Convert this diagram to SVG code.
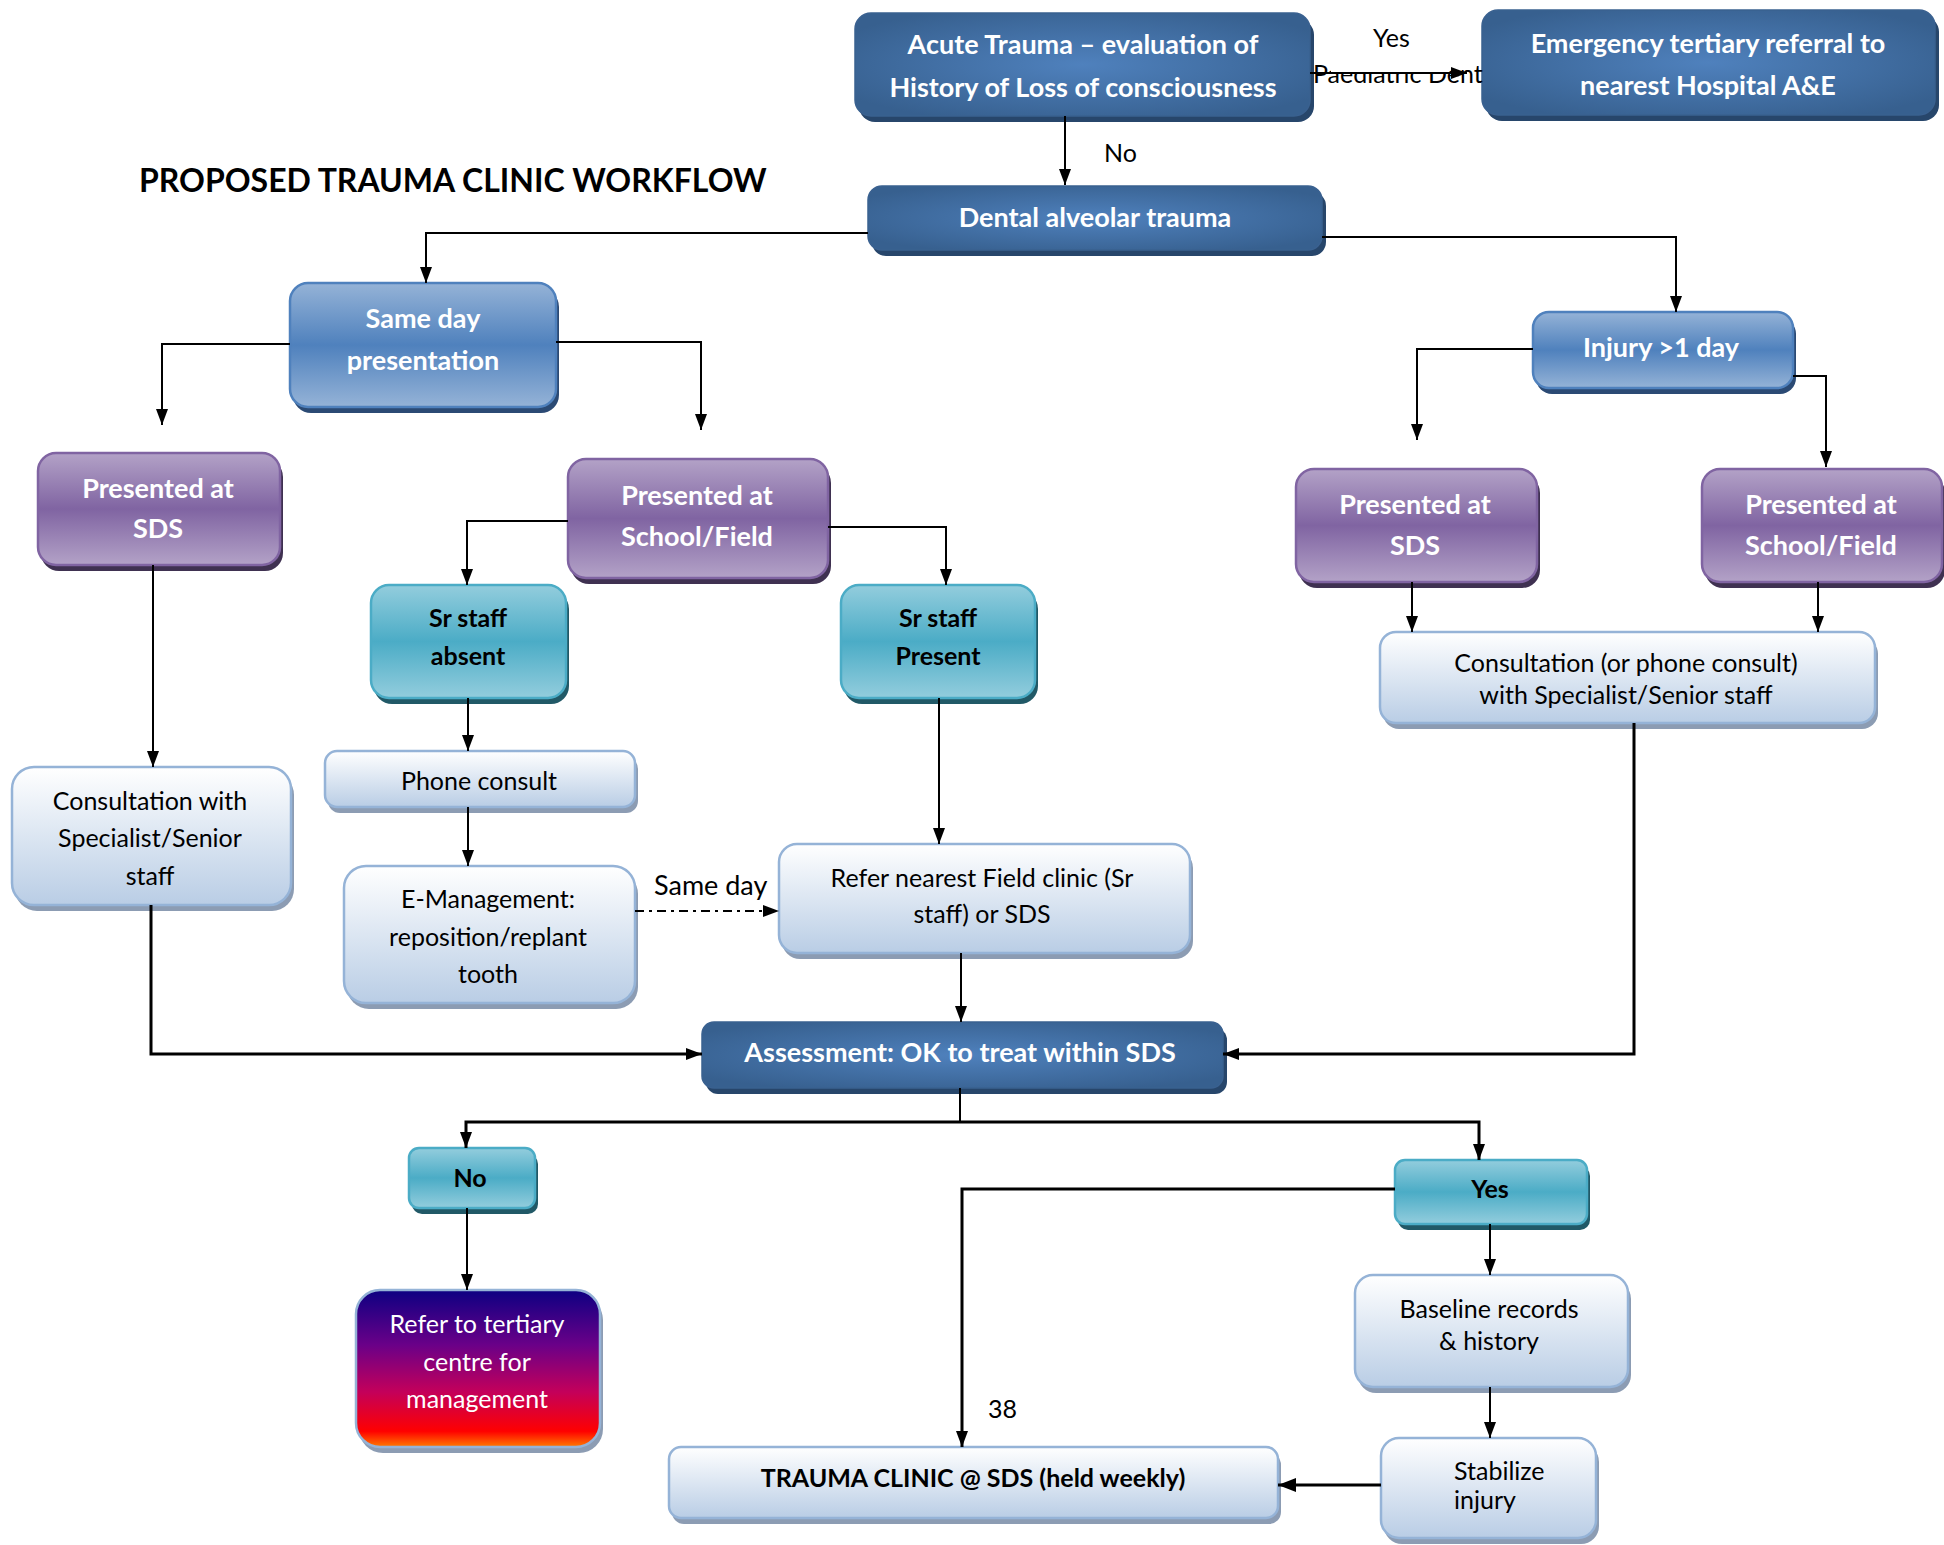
<svg xmlns="http://www.w3.org/2000/svg" width="1944" height="1545" viewBox="0 0 1944 1545">
<defs>
<radialGradient id="gDark" cx="0.5" cy="0.5" r="0.6">
<stop offset="0" stop-color="#4f81bd"/>
<stop offset="1" stop-color="#37608f"/>
</radialGradient>
<linearGradient id="gBlue" x1="0" y1="0" x2="0" y2="1">
<stop offset="0" stop-color="#95b3d7"/>
<stop offset="0.5" stop-color="#4f81bd"/>
<stop offset="1" stop-color="#95b3d7"/>
</linearGradient>
<linearGradient id="gPurple" x1="0" y1="0" x2="0" y2="1">
<stop offset="0" stop-color="#b3a2c7"/>
<stop offset="0.5" stop-color="#8064a2"/>
<stop offset="1" stop-color="#b3a2c7"/>
</linearGradient>
<linearGradient id="gTeal" x1="0" y1="0" x2="0" y2="1">
<stop offset="0" stop-color="#93cddd"/>
<stop offset="0.5" stop-color="#4bacc6"/>
<stop offset="1" stop-color="#93cddd"/>
</linearGradient>
<linearGradient id="gLight" x1="0" y1="0" x2="0" y2="1">
<stop offset="0" stop-color="#ffffff"/>
<stop offset="1" stop-color="#b9cde5"/>
</linearGradient>
<linearGradient id="gRefer" x1="0" y1="0" x2="0" y2="1">
<stop offset="0" stop-color="#0d0082"/>
<stop offset="0.35" stop-color="#6a0088"/>
<stop offset="0.65" stop-color="#c4005a"/>
<stop offset="0.9" stop-color="#ff0000"/>
<stop offset="1" stop-color="#ff7a00"/>
</linearGradient>
<marker id="arr" markerUnits="userSpaceOnUse" markerWidth="16" markerHeight="14" refX="16" refY="7" orient="auto">
<path d="M0,1 L16,7 L0,13 z" fill="#000"/>
</marker>
<marker id="arrB" markerUnits="userSpaceOnUse" markerWidth="18" markerHeight="16" refX="18" refY="8" orient="auto">
<path d="M0,1 L18,8 L0,15 z" fill="#000"/>
</marker>
<style>
.sdDark{fill:#27466b}
.dark{fill:url(#gDark);stroke:#3a6190;stroke-width:1.5}
.sdBlue{fill:#2b4a74}
.blue{fill:url(#gBlue);stroke:#4f81bd;stroke-width:2.5}
.sdPurple{fill:#3f3151}
.purple{fill:url(#gPurple);stroke:#8064a2;stroke-width:2.5}
.sdTeal{fill:#215967}
.teal{fill:url(#gTeal);stroke:#4bacc6;stroke-width:2.5}
.sdLight{fill:#8c9cb3}
.light{fill:url(#gLight);stroke:#95b3d7;stroke-width:2.5}
.refer{fill:url(#gRefer);stroke:#95b3d7;stroke-width:2.5}
text{font-family:Lato,"Open Sans","Liberation Sans",sans-serif}
.tw{fill:#fff;font-weight:700;font-size:27px;text-anchor:middle}
.tb{fill:#000;font-weight:700;font-size:25px;text-anchor:middle}
.tl{fill:#000;font-size:25px;text-anchor:middle}
.tls{fill:#000;font-size:25px;text-anchor:start}
.twr{fill:#fff;font-size:25px;text-anchor:middle}
.lbl{fill:#000;font-size:25px}
.title{fill:#000;font-weight:700;font-size:32px}
.c{fill:none;stroke:#000;stroke-width:2}
.ct{fill:none;stroke:#000;stroke-width:3}
</style>
</defs>
<rect width="1944" height="1545" fill="#fff"/>

<text class="title" x="139" y="192">PROPOSED TRAUMA CLINIC WORKFLOW</text>

<g id="acute">
<rect class="sdDark" x="859" y="19" width="455" height="103" rx="16"/>
<rect class="dark" x="855" y="13" width="455" height="103" rx="16"/>
<text class="tw" x="1083" y="54">Acute Trauma – evaluation of</text>
<text class="tw" x="1083" y="97">History of Loss of consciousness</text>
</g>
<g id="emergency">
<rect class="sdDark" x="1486" y="16" width="453" height="105" rx="16"/>
<rect class="dark" x="1482" y="10" width="453" height="105" rx="16"/>
<text class="tw" x="1708" y="53">Emergency tertiary referral to</text>
<text class="tw" x="1708" y="95">nearest Hospital A&amp;E</text>
</g>
<g id="dental">
<rect class="sdDark" x="872" y="192" width="454" height="64" rx="14"/>
<rect class="dark" x="868" y="186" width="454" height="64" rx="14"/>
<text class="tw" x="1095" y="227">Dental alveolar trauma</text>
</g>
<g id="same-day">
<rect class="sdBlue" x="293" y="289" width="266" height="124" rx="18"/>
<rect class="blue" x="290" y="283" width="266" height="124" rx="18"/>
<text class="tw" x="423" y="328">Same day</text>
<text class="tw" x="423" y="370">presentation</text>
</g>
<g id="injury">
<rect class="sdBlue" x="1536" y="318" width="260" height="76" rx="16"/>
<rect class="blue" x="1533" y="312" width="260" height="76" rx="16"/>
<text class="tw" x="1661" y="357">Injury &gt;1 day</text>
</g>
<g id="sds-left">
<rect class="sdPurple" x="41" y="459" width="242" height="112" rx="18"/>
<rect class="purple" x="38" y="453" width="242" height="112" rx="18"/>
<text class="tw" x="158" y="498">Presented at</text>
<text class="tw" x="158" y="538">SDS</text>
</g>
<g id="school-left">
<rect class="sdPurple" x="571" y="465" width="260" height="119" rx="18"/>
<rect class="purple" x="568" y="459" width="260" height="119" rx="18"/>
<text class="tw" x="697" y="505">Presented at</text>
<text class="tw" x="697" y="546">School/Field</text>
</g>
<g id="sds-right">
<rect class="sdPurple" x="1299" y="475" width="241" height="113" rx="18"/>
<rect class="purple" x="1296" y="469" width="241" height="113" rx="18"/>
<text class="tw" x="1415" y="514">Presented at</text>
<text class="tw" x="1415" y="555">SDS</text>
</g>
<g id="school-right">
<rect class="sdPurple" x="1705" y="475" width="240" height="113" rx="18"/>
<rect class="purple" x="1702" y="469" width="240" height="113" rx="18"/>
<text class="tw" x="1821" y="514">Presented at</text>
<text class="tw" x="1821" y="555">School/Field</text>
</g>
<g id="sr-absent">
<rect class="sdTeal" x="374" y="591" width="195" height="113" rx="18"/>
<rect class="teal" x="371" y="585" width="195" height="113" rx="18"/>
<text class="tb" x="468" y="627">Sr staff</text>
<text class="tb" x="468" y="665">absent</text>
</g>
<g id="sr-present">
<rect class="sdTeal" x="844" y="591" width="194" height="113" rx="18"/>
<rect class="teal" x="841" y="585" width="194" height="113" rx="18"/>
<text class="tb" x="938" y="627">Sr staff</text>
<text class="tb" x="938" y="665">Present</text>
</g>
<g id="consult-right">
<rect class="sdLight" x="1383" y="638" width="495" height="91" rx="16"/>
<rect class="light" x="1380" y="632" width="495" height="91" rx="16"/>
<text class="tl" x="1626" y="672">Consultation (or phone consult)</text>
<text class="tl" x="1626" y="704">with Specialist/Senior staff</text>
</g>
<g id="phone">
<rect class="sdLight" x="328" y="757" width="310" height="56" rx="12"/>
<rect class="light" x="325" y="751" width="310" height="56" rx="12"/>
<text class="tl" x="479" y="790">Phone consult</text>
</g>
<g id="consult-left">
<rect class="sdLight" x="15" y="773" width="279" height="138" rx="22"/>
<rect class="light" x="12" y="767" width="279" height="138" rx="22"/>
<text class="tl" x="150" y="810">Consultation with</text>
<text class="tl" x="150" y="847">Specialist/Senior</text>
<text class="tl" x="150" y="885">staff</text>
</g>
<g id="e-management">
<rect class="sdLight" x="347" y="872" width="291" height="137" rx="22"/>
<rect class="light" x="344" y="866" width="291" height="137" rx="22"/>
<text class="tl" x="488" y="908">E-Management:</text>
<text class="tl" x="488" y="946">reposition/replant</text>
<text class="tl" x="488" y="983">tooth</text>
</g>
<g id="refer-field">
<rect class="sdLight" x="782" y="850" width="411" height="109" rx="18"/>
<rect class="light" x="779" y="844" width="411" height="109" rx="18"/>
<text class="tl" x="982" y="887">Refer nearest Field clinic (Sr</text>
<text class="tl" x="982" y="923">staff) or SDS</text>
</g>
<g id="assessment">
<rect class="sdDark" x="706" y="1028" width="521" height="66" rx="12"/>
<rect class="dark" x="702" y="1022" width="521" height="66" rx="12"/>
<text class="tw" x="960" y="1062">Assessment: OK to treat within SDS</text>
</g>
<g id="no">
<rect class="sdTeal" x="412" y="1154" width="126" height="60" rx="10"/>
<rect class="teal" x="409" y="1148" width="126" height="60" rx="10"/>
<text class="tb" x="470" y="1187">No</text>
</g>
<g id="yes">
<rect class="sdTeal" x="1398" y="1166" width="192" height="64" rx="10"/>
<rect class="teal" x="1395" y="1160" width="192" height="64" rx="10"/>
<text class="tb" x="1490" y="1198">Yes</text>
</g>
<g id="refer-tertiary">
<rect class="sdLight" x="359" y="1296" width="244" height="157" rx="24"/>
<rect class="refer" x="356" y="1290" width="244" height="157" rx="24"/>
<text class="twr" x="477" y="1333">Refer to tertiary</text>
<text class="twr" x="477" y="1371">centre for</text>
<text class="twr" x="477" y="1408">management</text>
</g>
<g id="baseline-records">
<rect class="sdLight" x="1358" y="1281" width="273" height="112" rx="18"/>
<rect class="light" x="1355" y="1275" width="273" height="112" rx="18"/>
<text class="tl" x="1489" y="1318">Baseline records</text>
<text class="tl" x="1489" y="1350">&amp; history</text>
</g>
<g id="stabilize">
<rect class="sdLight" x="1384" y="1444" width="215" height="100" rx="18"/>
<rect class="light" x="1381" y="1438" width="215" height="100" rx="18"/>
<text class="tls" x="1454" y="1480">Stabilize</text>
<text class="tls" x="1454" y="1509">injury</text>
</g>
<g id="trauma-clinic">
<rect class="sdLight" x="672" y="1453" width="609" height="71" rx="12"/>
<rect class="light" x="669" y="1447" width="609" height="71" rx="12"/>
<text class="tb" x="973" y="1487">TRAUMA CLINIC @ SDS (held weekly)</text>
</g>

<g id="connectors">
<text class="lbl" x="1313" y="83">Paediatric Dent</text>
<rect x="1331" y="58" width="118" height="15" fill="#fff"/>
<path class="c" d="M1310 73 H1467" marker-end="url(#arr)"/>
<path class="c" d="M1065 116 V185" marker-end="url(#arr)"/>
<path class="c" d="M868 233 H426 V283" marker-end="url(#arr)"/>
<path class="c" d="M1322 237 H1676 V312" marker-end="url(#arr)"/>
<path class="c" d="M290 344 H162 V425" marker-end="url(#arr)"/>
<path class="c" d="M556 342 H701 V430" marker-end="url(#arr)"/>
<path class="c" d="M568 521 H467 V585" marker-end="url(#arr)"/>
<path class="c" d="M828 527 H946 V585" marker-end="url(#arr)"/>
<path class="c" d="M1533 349 H1417 V440" marker-end="url(#arr)"/>
<path class="c" d="M1793 376 H1826 V467" marker-end="url(#arr)"/>
<path class="c" d="M1412 582 V632" marker-end="url(#arr)"/>
<path class="c" d="M1818 582 V632" marker-end="url(#arr)"/>
<path class="c" d="M153 565 V767" marker-end="url(#arr)"/>
<path class="c" d="M468 698 V751" marker-end="url(#arr)"/>
<path class="c" d="M468 807 V866" marker-end="url(#arr)"/>
<path class="c" d="M939 698 V844" marker-end="url(#arr)"/>
<path class="c" d="M635 911 H779" stroke-dasharray="9 5 3 5" marker-end="url(#arr)"/>
<path class="c" d="M961 953 V1022" marker-end="url(#arr)"/>
<path class="ct" d="M151 905 V1054 H702" marker-end="url(#arr)"/>
<path class="ct" d="M1634 723 V1054 H1223" marker-end="url(#arr)"/>
<path class="c" d="M960 1088 V1122"/>
<path class="ct" d="M960 1122 H466 V1148" marker-end="url(#arr)"/>
<path class="ct" d="M960 1122 H1479 V1160" marker-end="url(#arr)"/>
<path class="c" d="M467 1208 V1290" marker-end="url(#arr)"/>
<path class="c" d="M1490 1224 V1275" marker-end="url(#arr)"/>
<path class="c" d="M1490 1387 V1438" marker-end="url(#arr)"/>
<path class="ct" d="M1395 1189 H962 V1447" marker-end="url(#arr)"/>
<path class="ct" d="M1381 1485 H1278" marker-end="url(#arrB)"/>
<text class="lbl" x="1373" y="47">Yes</text>
<text class="lbl" x="1104" y="162">No</text>
<text class="lbl" x="654" y="895" font-size="27" style="font-size:27px">Same day</text>
<text class="lbl" x="988" y="1418">38</text>
</g>
</svg>
